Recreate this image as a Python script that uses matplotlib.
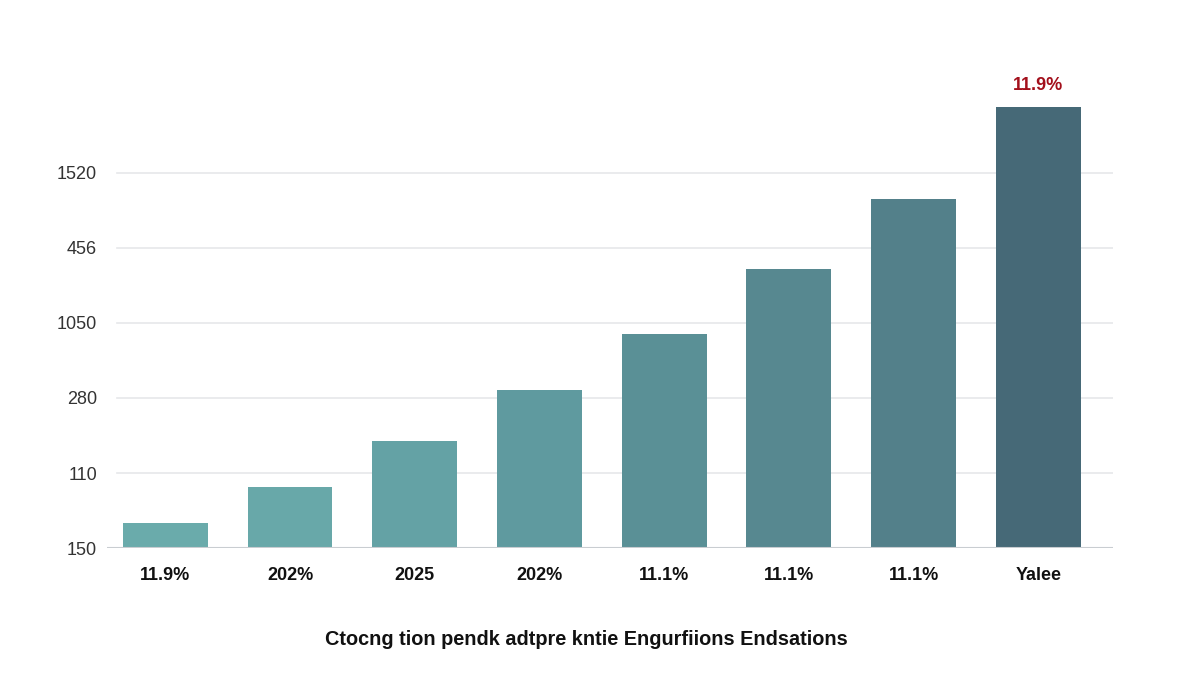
import numpy as np
import matplotlib.pyplot as plt

plt.rcParams['font.family'] = ['Liberation Sans', 'DejaVu Sans']

# valeurs (unites = pas de grille)
categories = ['11.9%', '202%', '2025', '202%', '11.1%', '11.1%', '11.1%', 'Yalee']
values = [0.33, 0.81, 1.43, 2.11, 2.85, 3.72, 4.65, 5.88]
ytick_pos = [0, 1, 2, 3, 4, 5]
ytick_labels = ['150', '110', '280', '1050', '456', '1520']
top_label = '11.9%'
title = 'Ctocng tion pendk adtpre kntie Engurfiions Endsations'

colors = ['#6aabab', '#68a8a9', '#64a2a5', '#5f9a9f', '#5a9096',
          '#578890', '#53808a', '#466977']

fig = plt.figure(figsize=(12, 6.78), dpi=100)
ax = fig.add_axes([0.089, 0.1917, 0.8385, 0.686])

x = np.arange(len(categories))
ax.bar(x, values, width=0.68, color=colors, zorder=3)

ax.set_xlim(-0.47, 7.6)
ax.set_ylim(0, 6.2)

for y in ytick_pos[1:]:
    ax.axhline(y, xmin=0.01, color='#e6e8ea', lw=1.2, zorder=1)
ax.axhline(0, color='#c9cdd1', lw=1.5, zorder=4)

for s in ax.spines.values():
    s.set_visible(False)

ax.set_yticks(ytick_pos)
ax.set_yticklabels(ytick_labels, fontsize=13, color='#333333')
ax.tick_params(axis='y', length=0, pad=7)
ax.set_xticks(x)
ax.set_xticklabels(categories, fontsize=13, fontweight='bold', color='#111111')
ax.tick_params(axis='x', length=0, pad=14)

ax.text(x[-1], values[-1] + 0.17, top_label, ha='center', va='bottom',
        fontsize=13, fontweight='bold', color='#a3101c')

fig.text(0.489, 0.057, title, ha='center', va='center', fontsize=14.3,
         color='#111111', fontweight='semibold')

fig.savefig('out.png', dpi=100, facecolor='white')
